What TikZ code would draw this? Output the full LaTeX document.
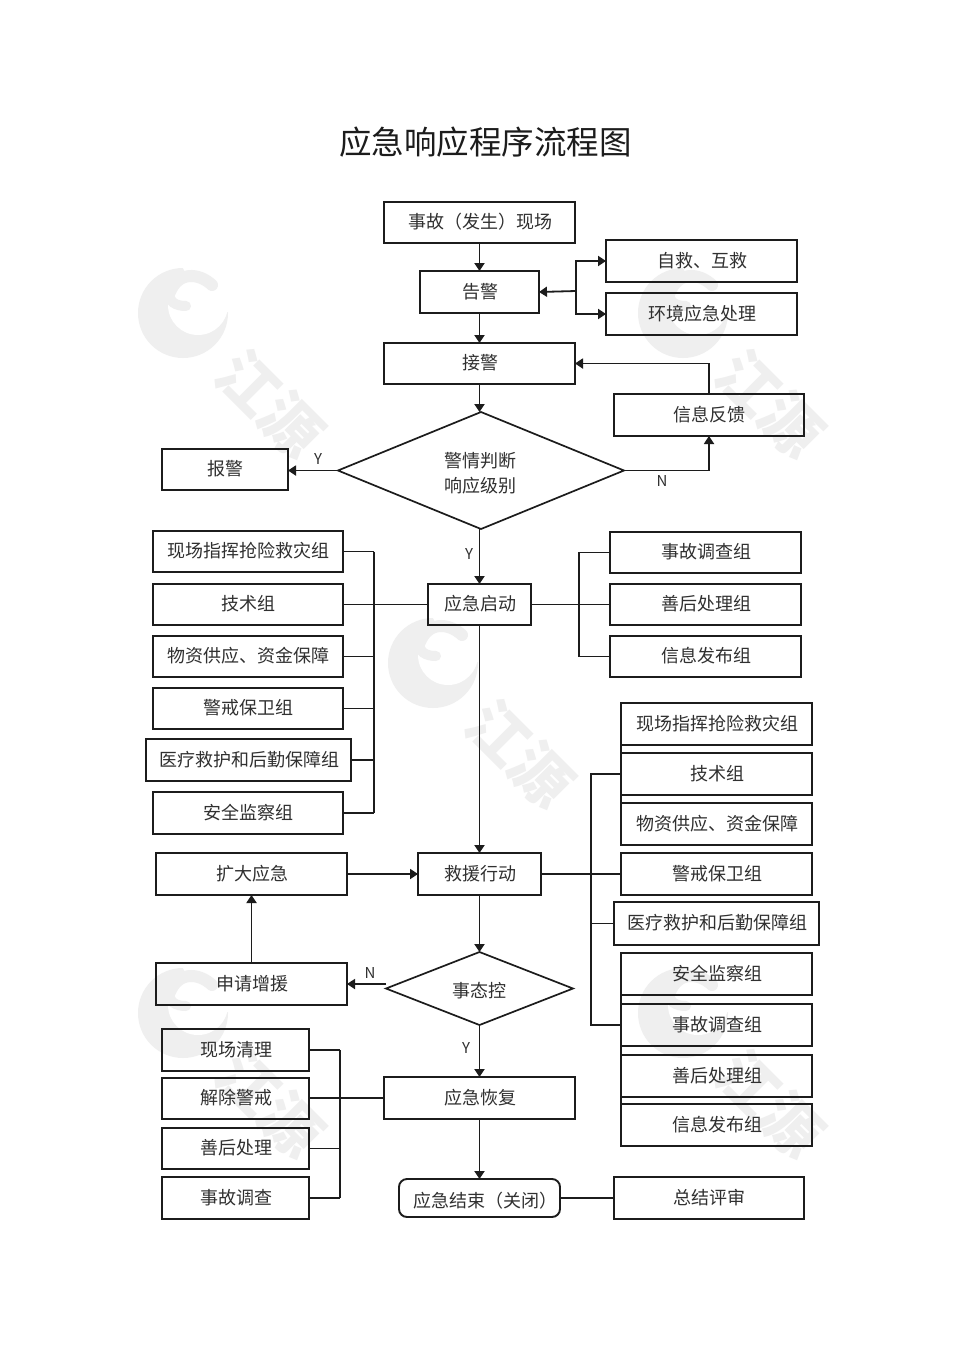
\documentclass[tikz,border=0pt]{standalone}
\usepackage{fontspec}
\setmainfont{Noto Sans CJK SC}
\usetikzlibrary{arrows.meta,shapes.geometric,calc}
\definecolor{ink}{HTML}{1C1C1C}
\definecolor{txt}{HTML}{303030}
\definecolor{wm}{HTML}{EFEFEF}
\tikzset{
  line/.style={draw=ink,line width=1.8pt},
  arrow/.style={line,-{Triangle[length=8pt,width=10pt]}},
  boxnode/.style={draw=ink,line width=1.9pt,text=txt,inner sep=0pt,outer sep=0pt,font=\fontsize{18}{25}\selectfont,anchor=north west},
  lab/.style={text=txt,inner sep=0pt,font=\fontsize{15}{15}\selectfont},
  dia/.style={diamond,shape aspect=2.45,draw=ink,line width=1.7pt,text=txt,inner sep=0pt,outer sep=0pt,font=\fontsize{18}{25}\selectfont},
}
\begin{document}
\begin{tikzpicture}[x=1pt,y=-1pt]
\useasboundingbox (0,0) rectangle (970,1371);
\fill[white] (0,0) rectangle (970,1371);
% watermarks
\foreach \ox/\oy in {0/0,500/0,250/350,0/700,500/700}{
  \begin{scope}[shift={(\ox,\oy)}]
    \fill[wm] (183,313) circle (45);
    \fill[white] (198,305) circle (30);
    \fill[white] (183,268) -- (235,262) -- (235,312) -- (205,312) -- cycle;
    \draw[wm,line width=12pt,line cap=round] (212,285) .. controls (198,272) and (178,272) .. (170,292);
    \draw[wm,line width=10pt,line cap=round] (170,292) .. controls (168,302) and (176,306) .. (186,306);
    \node[text=wm,rotate=-45,inner sep=0pt,font=\bfseries\fontsize{60}{60}\selectfont] at (270,404) {江源};
  \end{scope}
}
\node at (485.5,142) [inner sep=0pt,text=ink,font=\fontsize{32.5}{36}\selectfont] (title) {应急响应程序流程图};
% helper: \B{name}{x1}{y1}{x2}{y2}{text}
\def\B#1#2#3#4#5#6{\node[boxnode,minimum width=#4pt-#2pt,minimum height=#5pt-#3pt] (#1) at (#2,#3) {\hspace*{1.5pt}\raisebox{-6pt}[0pt][0pt]{#6}};}
\B{a}{384}{202}{575}{243}{事故（发生）现场}
\B{gj}{420}{271}{539}{313}{告警}
\B{zj}{606}{240}{797}{282}{自救、互救}
\B{hj}{606}{293}{797}{335}{环境应急处理}
\B{jj}{384}{343}{575}{384}{接警}
\B{xx}{614}{394}{804}{436}{信息反馈}
\B{bj}{162}{449}{288}{490}{报警}
\node[dia,minimum width=286pt,minimum height=117pt] (pd) at (481,470.5) {\hspace*{-2pt}\raisebox{-7pt}[0pt][0pt]{\parbox{80pt}{\centering 警情判断\\响应级别}}};
\B{l1}{153}{531}{343}{572}{现场指挥抢险救灾组}
\B{l2}{153}{584}{343}{625}{技术组}
\B{l3}{153}{636}{343}{677}{物资供应、资金保障}
\B{l4}{153}{688}{343}{729}{警戒保卫组}
\B{l5}{146}{739}{351}{781}{医疗救护和后勤保障组}
\B{l6}{153}{792}{343}{834}{安全监察组}
\B{qd}{428}{584}{531}{625}{应急启动}
\B{r1}{610}{532}{801}{573}{事故调查组}
\B{r2}{610}{584}{801}{625}{善后处理组}
\B{r3}{610}{636}{801}{677}{信息发布组}
\B{s1}{621}{703}{812}{745}{现场指挥抢险救灾组}
\B{s2}{621}{753}{812}{795}{技术组}
\B{s3}{621}{803}{812}{845}{物资供应、资金保障}
\B{s4}{621}{853}{812}{895}{警戒保卫组}
\B{s5}{614}{902}{819}{945}{医疗救护和后勤保障组}
\B{s6}{621}{953}{812}{995}{安全监察组}
\B{s7}{621}{1004}{812}{1046}{事故调查组}
\B{s8}{621}{1055}{812}{1097}{善后处理组}
\B{s9}{621}{1104}{812}{1146}{信息发布组}
\B{kd}{156}{853}{347}{895}{扩大应急}
\B{jy}{418}{853}{541}{895}{救援行动}
\B{sq}{156}{963}{347}{1005}{申请增援}
\node[dia,minimum width=187pt,minimum height=73pt] (st) at (479.5,988.5) {\raisebox{-8.5pt}[0pt][0pt]{事态控}};
\B{hf}{384}{1077}{575}{1119}{应急恢复}
\B{c1}{162}{1029}{309}{1071}{现场清理}
\B{c2}{162}{1078}{309}{1119}{解除警戒}
\B{c3}{162}{1128}{309}{1169}{善后处理}
\B{c4}{162}{1177}{309}{1219}{事故调查}
\node[boxnode,rounded corners=8pt,minimum width=161pt,minimum height=38pt] (js) at (399,1179) {\hspace*{12pt}\raisebox{-9pt}[0pt][0pt]{应急结束（关闭）}};
\B{zp}{614}{1177}{804}{1219}{总结评审}
% main flow
\draw[arrow] (a.south) -- (a.south |- gj.north);
\draw[arrow] (a.south |- gj.south) -- (a.south |- jj.north);
\draw[arrow] (jj.south) -- (jj.south |- pd.north);
\draw[arrow] (jj.south |- pd.south) -- (jj.south |- qd.north);
\draw[arrow] (jj.south |- qd.south) -- (jj.south |- jy.north);
\draw[arrow] (jj.south |- jy.south) -- (st.north);
\draw[arrow] (st.south) -- (st.south |- hf.north);
\draw[arrow] (hf.south) -- (hf.south |- js.north);
% alarm branch
\coordinate (gjm) at (576,291);
\draw[arrow] (gjm) -- (gj.east);
\draw[arrow] (gjm) |- (zj.west);
\draw[arrow] (gjm) |- (hj.west);
% feedback
\draw[arrow] (xx.north) |- (jj.east);
\draw[arrow] (pd.east) -| (xx.south);
\draw[arrow] (pd.west) -- (bj.east |- pd.west);
% left bus
\coordinate (lb) at (374,604);
\foreach \n in {l1,l3,l4,l5,l6}{\draw[line] (\n.east) -- (lb |- \n.east);}
\draw[line] (lb |- l1.east) -- (lb |- l6.east);
\draw[line] (l2.east) -- (qd.west);
% right bus 1
\coordinate (rb) at (579,604);
\draw[line] (qd.east) -- (r2.west);
\draw[line] (r1.west) -| (rb);
\draw[line] (r3.west) -| (rb);
% right bus 2
\coordinate (sb) at (591,874);
\draw[line] (jy.east) -- (s4.west);
\draw[line] (s2.west) -| (sb);
\draw[line] (s7.west) -| (sb);
\draw[line] (s5.west) -- (sb |- s5.west);
% joins between the stacked boxes
\draw[line] (s1.south west) -- (s2.north west);
\draw[line] (s2.south west) -- (s3.north west);
\draw[line] (s6.south west) -- (s7.north west);
\draw[line] (s7.south west) -- (s8.north west);
\draw[line] (s8.south west) -- (s9.north west);
% lower left
\draw[arrow] (kd.east) -- (jy.west);
\coordinate (sti) at (386,984);
\draw[arrow] (sti) -- (sq.east |- sti);
\draw[arrow] (sq.north) -- (kd.south);
\coordinate (cb) at (340,1098);
\foreach \n in {c1,c3,c4}{\draw[line] (\n.east) -- (cb |- \n.east);}
\draw[line] (cb |- c1.east) -- (cb |- c4.east);
\draw[line] (c2.east |- hf.west) -- (hf.west);
\draw[line] (js.east |- zp.west) -- (zp.west);
% labels
\node[lab] (ly1) at (318,459) {Y};
\node[lab] (ln1) at (662,481) {N};
\node[lab] (ly2) at (469,554) {Y};
\node[lab] (ln2) at (370,973) {N};
\node[lab] (ly3) at (466,1048) {Y};
\end{tikzpicture}
\end{document}
